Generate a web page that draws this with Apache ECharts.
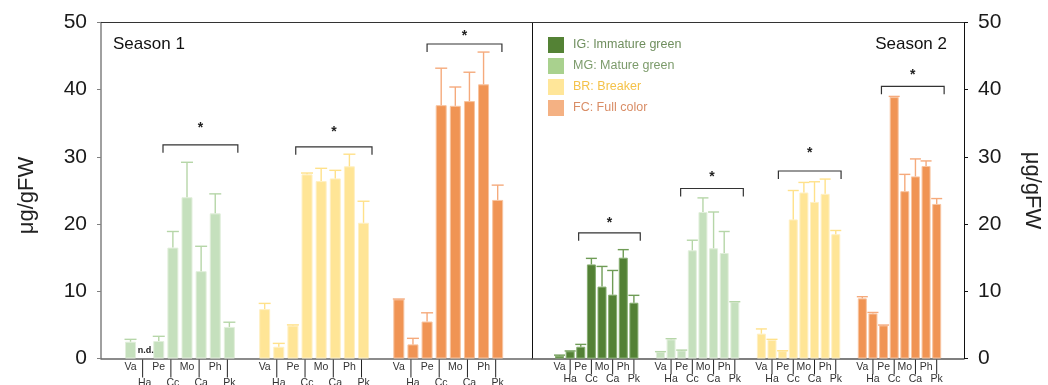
<!DOCTYPE html>
<html><head><meta charset="utf-8">
<script src="https://cdn.jsdelivr.net/npm/echarts@6/dist/echarts.min.js"></script>
<style>html,body{margin:0;padding:0;background:#fff}#c{width:1048px;height:385px}</style>
</head><body><div id="c"></div>
<script>
// ---------- data ----------
const categories = ['Va', 'Ha', 'Pe', 'Cc', 'Mo', 'Ca', 'Ph', 'Pk'];
const stageNames = ['IG: Immature green', 'MG: Mature green', 'BR: Breaker', 'FC: Full color'];
const seasonNames = ['Season 1', 'Season 2'];
const yTickMax = 50;
const yTickStep = 10;
const unitName = 'μg/gFW';

// Season 1 (MG, BR, FC)
const s1Stages = [1, 2, 3];
const s1MG    = [2.5, null, 2.6, 16.5, 24.0, 13.0, 21.6, 4.7];
const s1MGErr = [0.35, null, 0.7, 2.4, 5.2, 3.7, 2.9, 0.7];
const s1BR    = [7.35, 1.75, 4.9, 27.4, 26.4, 26.8, 28.6, 20.2];
const s1BRErr = [0.85, 0.5, 0.1, 0.2, 1.9, 1.2, 1.8, 3.2];
const s1FC    = [8.8, 2.1, 5.5, 37.7, 37.6, 38.3, 40.8, 23.6];
const s1FCErr = [0.05, 0.9, 1.3, 5.5, 2.8, 4.3, 4.8, 2.2];

// Season 2 (IG, MG, BR, FC)
const s2Stages = [0, 1, 2, 3];
const s2IG    = [0.4, 1.07, 1.75, 14.0, 10.7, 9.5, 15.0, 8.3];
const s2IGErr = [0.1, 0.05, 0.35, 0.9, 3.0, 3.6, 1.2, 1.1];
const s2MG    = [0.97, 2.85, 1.2, 16.1, 21.8, 16.4, 15.7, 8.4];
const s2MGErr = [0.05, 0.1, 0.05, 1.5, 2.1, 5.4, 3.2, 0.05];
const s2BR    = [3.7, 2.75, 1.1, 20.7, 24.7, 23.3, 24.5, 18.5];
const s2BRErr = [0.7, 0.1, 0.05, 4.3, 1.5, 3.0, 2.2, 0.55];
const s2FC    = [8.95, 6.7, 4.93, 38.9, 24.9, 27.1, 28.65, 23.0];
const s2FCErr = [0.25, 0.15, 0.05, 0.1, 2.5, 2.6, 0.75, 0.8];

// significance brackets per group: [from category pos, to category pos, bracket value, star value]
const s1Brackets = [[2.3, 7.6, 31.8, 34.7], [2.2, 7.6, 31.5, 34.1], [2.0, 7.3, 46.8, 48.4]];
const s2Brackets = [[1.8, 7.6, 18.7, 20.6], [1.9, 7.8, 25.3, 27.4], [1.6, 7.5, 27.9, 31.0], [1.8, 7.7, 40.5, 42.6]];
const signifMark = '*';
const notDetected = 'n.d.';

// ---------- style ----------
const FONT = 'Liberation Sans, Arial, sans-serif';
const barColors    = ['#538135', '#c5e0bd', '#ffe596', '#f09454'];
const barBorders   = ['#86ad70', '#e2efdc', '#fff0c4', '#f8c4a0'];
const errColors    = ['#6f9c56', '#b6d6a8', '#ffe18a', '#f5aa7c'];
const legendColors = ['#548235', '#a9d18e', '#ffe699', '#f4b183'];
const legendText   = ['#6f8e5e', '#7c9b6b', '#f4c24a', '#d98d66'];
const GROUP_STEP = 9.5;
const pos = (g, i) => g * GROUP_STEP + i;

const panels = [
  { xAxis: 0, yAxis: 0, stages: s1Stages, values: [s1MG, s1BR, s1FC], errs: [s1MGErr, s1BRErr, s1FCErr],
    brackets: s1Brackets, barWidth: 11, capWidth: 12, lineLen: 19, lowerY: 25, lineShift: -2 },
  { xAxis: 2, yAxis: 2, stages: s2Stages, values: [s2IG, s2MG, s2BR, s2FC], errs: [s2IGErr, s2MGErr, s2BRErr, s2FCErr],
    brackets: s2Brackets, barWidth: 9, capWidth: 11, lineLen: 16, lowerY: 21, lineShift: 0 }
];

const series = [];
panels.forEach((p, pi) => {
  p.stages.forEach((s, g) => {
    series.push({
      type: 'bar', name: stageNames[s], xAxisIndex: p.xAxis, yAxisIndex: p.yAxis,
      barWidth: p.barWidth, barGap: '-100%',
      itemStyle: { color: barColors[s], borderColor: barBorders[s], borderWidth: 1 },
      data: p.values[g].map((v, i) => [pos(g, i), v]).filter(d => d[1] != null),
      z: 2
    });
    series.push({
      type: 'custom', name: 'err' + pi + '_' + g, xAxisIndex: p.xAxis, yAxisIndex: p.yAxis, z: 3,
      data: p.values[g].map((v, i) => [pos(g, i), v, p.errs[g][i]]),
      renderItem: (params, api) => {
        const x = api.value(0), v = api.value(1), e = api.value(2);
        if (v == null || isNaN(v)) {
          const q = api.coord([x, 0]);
          return { type: 'text', style: { text: notDetected, x: q[0] + 1, y: q[1] - 8, align: 'center',
            verticalAlign: 'middle', font: 'bold 9px ' + FONT, fill: '#222' } };
        }
        const p0 = api.coord([x, v]), p1 = api.coord([x, v + e]);
        const st = { stroke: errColors[s], lineWidth: 1.4 };
        return { type: 'group', children: [
          { type: 'line', shape: { x1: p0[0], y1: p0[1], x2: p1[0], y2: p1[1] }, style: st },
          { type: 'line', shape: { x1: p1[0] - p.capWidth / 2, y1: p1[1], x2: p1[0] + p.capWidth / 2, y2: p1[1] }, style: st }
        ] };
      }
    });
  });
  series.push({
    type: 'custom', name: 'br' + pi, xAxisIndex: p.xAxis, yAxisIndex: p.yAxis, z: 4,
    data: p.brackets.map((b, g) => [pos(g, b[0]), pos(g, b[1]), b[2], b[3]]),
    renderItem: (params, api) => {
      const a = api.coord([api.value(0), api.value(2)]);
      const b = api.coord([api.value(1), api.value(2)]);
      const s = api.coord([(api.value(0) + api.value(1)) / 2, api.value(3)]);
      return { type: 'group', children: [
        { type: 'polyline', shape: { points: [[a[0], a[1] + 8], [a[0], a[1]], [b[0], b[1]], [b[0], b[1] + 8]] },
          style: { stroke: '#333', lineWidth: 1.2, fill: null } },
        { type: 'text', style: { text: signifMark, x: s[0], y: s[1] + 3, align: 'center', verticalAlign: 'middle',
          font: 'bold 14px ' + FONT, fill: '#222' } }
      ] };
    }
  });
  const labData = [];
  p.stages.forEach((s, g) => categories.forEach((c, i) => labData.push([pos(g, i), i])));
  series.push({
    type: 'custom', name: 'lab' + pi, xAxisIndex: p.xAxis, yAxisIndex: p.yAxis, z: 5,
    data: labData,
    renderItem: (params, api) => {
      const i = api.value(1);
      const q = api.coord([api.value(0), 0]);
      const font = '10.5px ' + FONT;
      if (i % 2 === 0) {
        return { type: 'text', style: { text: categories[i], x: q[0], y: q[1] + 9, align: 'center', verticalAlign: 'middle', font, fill: '#333' } };
      }
      const lx = q[0] + p.lineShift;
      return { type: 'group', children: [
        { type: 'line', shape: { x1: lx, y1: q[1] + 1, x2: lx, y2: q[1] + p.lineLen }, style: { stroke: '#222', lineWidth: 1 } },
        { type: 'text', style: { text: categories[i], x: q[0], y: q[1] + p.lowerY, align: 'center', verticalAlign: 'middle', font, fill: '#333' } }
      ] };
    }
  });
});

const yLabel = { fontSize: 21, color: '#1a1a1a', fontFamily: FONT, margin: 14 };
const option = {
  animation: false,
  title: [
    { text: seasonNames[0], left: 113, top: 36, padding: 0, textStyle: { fontSize: 17, fontWeight: 'normal', color: '#111', fontFamily: FONT } },
    { text: seasonNames[1], right: 101, top: 36, padding: 0, textStyle: { fontSize: 17, fontWeight: 'normal', color: '#111', fontFamily: FONT } }
  ],
  legend: {
    orient: 'vertical', left: 548, top: 37, padding: 0, itemWidth: 16, itemHeight: 16, itemGap: 5,
    icon: 'rect', selectedMode: false,
    textStyle: { fontSize: 12.5, fontFamily: FONT, padding: [0, 0, 0, 4] },
    data: stageNames.map((n, k) => ({ name: n, itemStyle: { color: legendColors[k], borderWidth: 0 }, textStyle: { color: legendText[k] } }))
  },
  grid: [
    { left: 101, top: 22.5, width: 431, height: 336, containLabel: false },
    { left: 532, top: 22.5, width: 432, height: 336, containLabel: false }
  ],
  xAxis: [
    { type: 'value', gridIndex: 0, min: -2.09, max: 28.43, axisLine: { show: true, onZero: false, lineStyle: { color: '#666', width: 1.5 } },
      axisTick: { show: false }, axisLabel: { show: false }, splitLine: { show: false } },
    { type: 'value', gridIndex: 0, position: 'top', min: -2.09, max: 28.43, axisLine: { show: true, onZero: false, lineStyle: { color: '#333', width: 1 } },
      axisTick: { show: false }, axisLabel: { show: false }, splitLine: { show: false } },
    { type: 'value', gridIndex: 1, min: -2.59, max: 38.07, axisLine: { show: true, onZero: false, lineStyle: { color: '#555', width: 1.5 } },
      axisTick: { show: false }, axisLabel: { show: false }, splitLine: { show: false } },
    { type: 'value', gridIndex: 1, position: 'top', min: -2.59, max: 38.07, axisLine: { show: true, onZero: false, lineStyle: { color: '#333', width: 1 } },
      axisTick: { show: false }, axisLabel: { show: false }, splitLine: { show: false } }
  ],
  yAxis: [
    { type: 'value', gridIndex: 0, position: 'left', min: 0, max: yTickMax, interval: yTickStep,
      axisLine: { show: true, onZero: false, lineStyle: { color: '#808080', width: 1.5 } },
      axisTick: { show: true, length: 4, lineStyle: { color: '#808080' } }, axisLabel: yLabel, splitLine: { show: false },
      name: unitName, nameLocation: 'middle', nameRotate: 90, nameGap: 63,
      nameTextStyle: { fontSize: 22, color: '#222', fontFamily: FONT, padding: [0, 0, 0, -10] } },
    { type: 'value', gridIndex: 1, position: 'left', min: 0, max: yTickMax, interval: yTickStep,
      axisLine: { show: true, onZero: false, lineStyle: { color: '#111', width: 1 } },
      axisTick: { show: false }, axisLabel: { show: false }, splitLine: { show: false } },
    { type: 'value', gridIndex: 1, position: 'right', min: 0, max: yTickMax, interval: yTickStep,
      axisLine: { show: true, onZero: false, lineStyle: { color: '#111', width: 1 } },
      axisTick: { show: true, length: 4, lineStyle: { color: '#111' } }, axisLabel: yLabel, splitLine: { show: false },
      name: unitName, nameLocation: 'middle', nameRotate: -90, nameGap: 57,
      nameTextStyle: { fontSize: 22, color: '#222', fontFamily: FONT } }
  ],
  series
};
const chart = echarts.init(document.getElementById('c'), null, { renderer: 'canvas' });
chart.setOption(option);
</script></body></html>
